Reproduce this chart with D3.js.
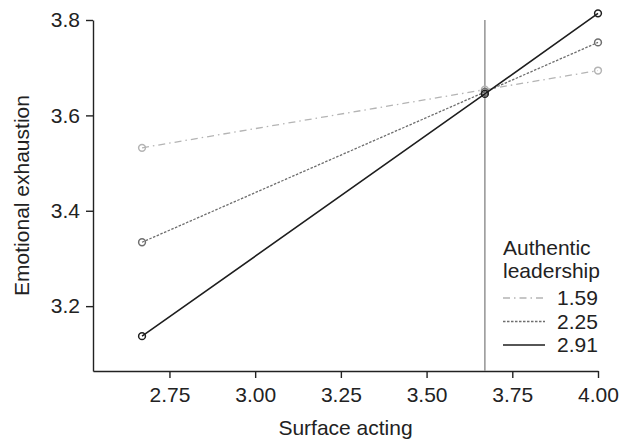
<!DOCTYPE html>
<html>
<head>
<meta charset="utf-8">
<script src="https://cdn.jsdelivr.net/npm/d3@7"></script>
<style>
  body { margin: 0; background: #fff; }
  svg { display: block; font-family: "Liberation Sans", Arial, sans-serif; }
</style>
</head>
<body>
<div id="chart"></div>
<script>
// Surface acting values (low, mean, high)
const surfaceActing = [2.67, 3.67, 4.00];
const meanSurfaceActing = 3.67;

// Authentic leadership levels
const leadershipLevels = ['1.59', '2.25', '2.91'];

// Emotional exhaustion for each level
const exhaustionLow = [3.532, 3.654, 3.694];
const exhaustionMid = [3.334, 3.649, 3.753];
const exhaustionHigh = [3.137, 3.645, 3.814];

const xTicks = [2.75, 3.00, 3.25, 3.50, 3.75, 4.00];
const yTicks = [3.2, 3.4, 3.6, 3.8];

const width = 619;
const height = 442;
const fontSize = 21;

const series = [
  { name: leadershipLevels[0], values: exhaustionLow, color: '#b4b4b4', dash: '7,4,1.5,4', width: 1.3 },
  { name: leadershipLevels[1], values: exhaustionMid, color: '#6e6e6e', dash: '2.5,1.5', width: 1.3 },
  { name: leadershipLevels[2], values: exhaustionHigh, color: '#1e1e1e', dash: null, width: 1.6 }
];

const x = d3.scaleLinear().domain([2.527, 4.0]).range([93, 598]);
const y = d3.scaleLinear().domain([3.064, 3.8]).range([371, 20]);

const svg = d3.select('#chart')
  .append('svg')
  .attr('width', width)
  .attr('height', height);

// Axes
const xAxis = svg.append('g')
  .attr('transform', `translate(0,${y.range()[0]})`)
  .call(d3.axisBottom(x).tickValues(xTicks).tickFormat(d3.format('.2f'))
    .tickSizeInner(7).tickSizeOuter(0).tickPadding(9));

const yAxis = svg.append('g')
  .attr('transform', `translate(${x.range()[0]},0)`)
  .call(d3.axisLeft(y).tickValues(yTicks).tickFormat(d3.format('.1f'))
    .tickSizeInner(7).tickSizeOuter(0).tickPadding(6));

[xAxis, yAxis].forEach(g => {
  g.select('.domain').attr('stroke', '#222').attr('stroke-width', 1.4);
  g.selectAll('.tick line').attr('stroke', '#222').attr('stroke-width', 1.4);
  g.selectAll('.tick text').attr('font-size', fontSize).attr('fill', '#222')
    .attr('font-family', '"Liberation Sans", Arial, sans-serif');
});

// Axis titles
svg.append('text')
  .attr('x', (x.range()[0] + x.range()[1]) / 2)
  .attr('y', 435)
  .attr('text-anchor', 'middle')
  .attr('font-size', fontSize)
  .attr('fill', '#222')
  .text('Surface acting');

svg.append('text')
  .attr('transform', `translate(29,${(y.range()[0] + y.range()[1]) / 2}) rotate(-90)`)
  .attr('text-anchor', 'middle')
  .attr('font-size', fontSize)
  .attr('fill', '#222')
  .text('Emotional exhaustion');

// Mean line
svg.append('line')
  .attr('x1', x(meanSurfaceActing))
  .attr('x2', x(meanSurfaceActing))
  .attr('y1', y.range()[0])
  .attr('y2', y.range()[1])
  .attr('stroke', '#9a9a9a')
  .attr('stroke-width', 1.6);

// Lines
const line = d3.line()
  .x((d, i) => x(surfaceActing[i]))
  .y(d => y(d));

series.forEach(s => {
  svg.append('path')
    .datum(s.values)
    .attr('d', line)
    .attr('fill', 'none')
    .attr('stroke', s.color)
    .attr('stroke-width', s.width)
    .attr('stroke-dasharray', s.dash);

  svg.selectAll(null)
    .data(s.values)
    .enter()
    .append('circle')
    .attr('cx', (d, i) => x(surfaceActing[i]))
    .attr('cy', d => y(d))
    .attr('r', 3.4)
    .attr('fill', 'none')
    .attr('stroke', s.color)
    .attr('stroke-width', 1.5);
});

// Legend
const legend = svg.append('g').attr('transform', 'translate(503,0)');

legend.append('text')
  .attr('x', 0).attr('y', 255)
  .attr('font-size', fontSize).attr('fill', '#222')
  .text('Authentic');

legend.append('text')
  .attr('x', 0).attr('y', 278)
  .attr('font-size', fontSize).attr('fill', '#222')
  .text('leadership');

const items = legend.selectAll('.item')
  .data(series)
  .enter()
  .append('g')
  .attr('transform', (d, i) => `translate(0,${298 + i * 23.5})`);

items.append('line')
  .attr('x1', 0).attr('x2', 42)
  .attr('stroke', d => d.color)
  .attr('stroke-width', d => d.width)
  .attr('stroke-dasharray', d => d.dash);

items.append('text')
  .attr('x', 54)
  .attr('dy', '0.35em')
  .attr('font-size', fontSize)
  .attr('fill', '#222')
  .text(d => d.name);
</script>
</body>
</html>
